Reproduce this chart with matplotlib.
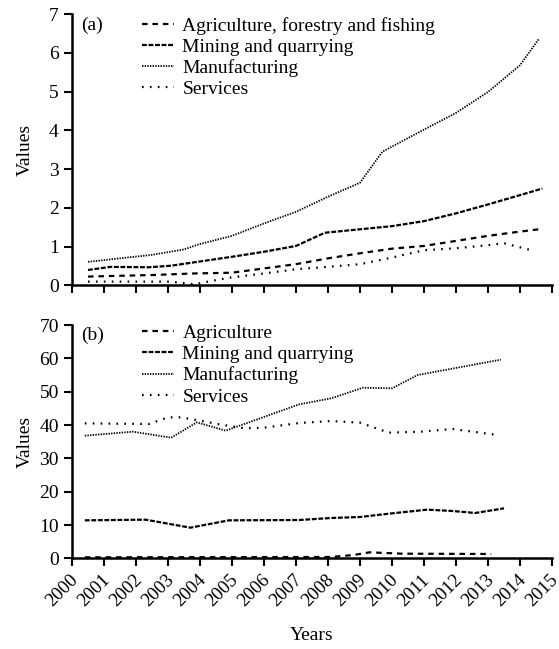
import matplotlib
matplotlib.use('Agg')
import matplotlib.pyplot as plt
import matplotlib.transforms as mtransforms

plt.rcParams['font.family'] = ['Liberation Serif', 'DejaVu Serif']
plt.rcParams['lines.scale_dashes'] = False

# ---- panel (a) ----
a_agri_x = [2000.5, 2001.5, 2002.5, 2003.8, 2005.0, 2006.0, 2007.0, 2008.0, 2009.0, 2010.0, 2011.0, 2012.0, 2013.0, 2014.0, 2014.7]
a_agri_y = [0.23, 0.25, 0.27, 0.31, 0.33, 0.44, 0.55, 0.70, 0.83, 0.95, 1.02, 1.15, 1.28, 1.39, 1.46]

a_mining_x = [2000.5, 2001.2, 2002.4, 2003.1, 2004.0, 2005.0, 2006.0, 2007.0, 2007.9, 2009.0, 2010.0, 2011.0, 2012.0, 2013.0, 2014.0, 2014.7]
a_mining_y = [0.40, 0.48, 0.47, 0.51, 0.62, 0.74, 0.87, 1.02, 1.36, 1.45, 1.53, 1.66, 1.86, 2.09, 2.33, 2.50]

a_manuf_x = [2000.5, 2001.5, 2002.5, 2003.5, 2004.0, 2005.0, 2006.0, 2007.0, 2008.0, 2009.0, 2009.7, 2011.0, 2012.0, 2013.0, 2014.0, 2014.6]
a_manuf_y = [0.61, 0.70, 0.79, 0.93, 1.07, 1.28, 1.60, 1.90, 2.29, 2.65, 3.45, 4.02, 4.45, 4.99, 5.68, 6.37]

a_serv_x = [2000.5, 2003.1, 2003.8, 2004.9, 2006.0, 2007.0, 2008.0, 2009.0, 2010.0, 2011.0, 2012.0, 2013.0, 2013.5, 2014.4]
a_serv_y = [0.10, 0.10, 0.03, 0.20, 0.31, 0.42, 0.48, 0.55, 0.72, 0.91, 0.96, 1.04, 1.09, 0.90]

# ---- panel (b) ----
b_agri_x = [2000.4, 2008.1, 2008.8, 2009.3, 2010.3, 2013.1]
b_agri_y = [0.3, 0.4, 1.0, 1.8, 1.4, 1.3]

b_mining_x = [2000.4, 2002.3, 2003.7, 2004.9, 2007.1, 2008.1, 2009.0, 2009.9, 2011.1, 2011.9, 2012.6, 2013.5]
b_mining_y = [11.4, 11.6, 9.2, 11.4, 11.5, 12.1, 12.4, 13.4, 14.6, 14.2, 13.6, 15.0]

b_manuf_x = [2000.4, 2001.9, 2003.1, 2003.9, 2004.8, 2007.1, 2008.1, 2009.1, 2010.0, 2010.8, 2013.4]
b_manuf_y = [36.8, 38.0, 36.2, 40.8, 38.3, 46.2, 48.0, 51.2, 51.0, 55.0, 59.6]

b_serv_x = [2000.4, 2002.4, 2003.0, 2003.4, 2004.0, 2004.6, 2005.4, 2006.0, 2007.1, 2008.1, 2009.0, 2009.9, 2010.9, 2011.9, 2013.3]
b_serv_y = [40.5, 40.3, 42.3, 42.3, 41.3, 40.2, 39.0, 39.2, 40.6, 41.2, 40.7, 37.7, 38.0, 38.8, 37.0]

years = list(range(2000, 2016))

agri_style = dict(color='black', lw=1.6, linestyle=(0, (4, 3.5)))
mining_style = dict(color='black', lw=1.6, linestyle=(0, (3.5, 1.2)))
manuf_style = dict(color='black', lw=1.3, linestyle=(0, (1, 0.9)))
serv_style = dict(color='black', lw=1.6, linestyle=(0, (1.2, 4.5)))

fig = plt.figure(figsize=(5.59, 6.49), dpi=100)
ax1 = fig.add_axes([0.1288, 0.5601, 0.8587, 0.4183])
ax2 = fig.add_axes([0.1288, 0.1397, 0.8587, 0.3595])

ax1.plot(a_agri_x, a_agri_y, label='Agriculture, forestry and fishing', **agri_style)
ax1.plot(a_mining_x, a_mining_y, label='Mining and quarrying', **mining_style)
ax1.plot(a_manuf_x, a_manuf_y, label='Manufacturing', **manuf_style)
ax1.plot(a_serv_x, a_serv_y, label='Services', **serv_style)

ax2.plot(b_agri_x, b_agri_y, label='Agriculture', **agri_style)
ax2.plot(b_mining_x, b_mining_y, label='Mining and quarrying', **mining_style)
ax2.plot(b_manuf_x, b_manuf_y, label='Manufacturing', **manuf_style)
ax2.plot(b_serv_x, b_serv_y, label='Services', **serv_style)

for ax, top in ((ax1, 0.99), (ax2, 1.003)):
    ax.set_xlim(2000, 2015)
    ax.set_xticks(years)
    for s in ('top', 'right'):
        ax.spines[s].set_visible(False)
    for s in ('left', 'bottom'):
        ax.spines[s].set_linewidth(1.8)
    ax.tick_params(width=1.5, length=6, labelsize=14, direction='out')
    ax.set_ylabel('Values', fontsize=14)
    ax.yaxis.set_label_coords(-0.08, 0.5)
    ax.legend(loc='upper left', bbox_to_anchor=(0.145, top), frameon=False,
              fontsize=14, handlelength=1.65, handletextpad=0.45,
              labelspacing=0.18, borderpad=0, borderaxespad=0)

ax1.set_ylim(0, 7)
ax1.set_yticks(range(0, 8))
ax1.set_xticklabels([])
ax1.text(0.02, 0.96, '(a)', transform=ax1.transAxes, fontsize=14, va='center')

ax2.set_ylim(0, 70)
ax2.set_yticks(range(0, 71, 10))
ax2.set_xticklabels([str(y) for y in years], rotation=45, ha='right',
                    rotation_mode='anchor', fontsize=13.5)
# nudge the rotated year labels a little left so 2015 stays inside
shift = mtransforms.ScaledTranslation(-3 / 100, 0, fig.dpi_scale_trans)
for lab in ax2.get_xticklabels():
    lab.set_transform(lab.get_transform() + shift)
ax2.text(0.02, 0.955, '(b)', transform=ax2.transAxes, fontsize=14, va='center')
ax2.set_xlabel('Years', fontsize=14, labelpad=12)

fig.savefig('out.png', dpi=100)
